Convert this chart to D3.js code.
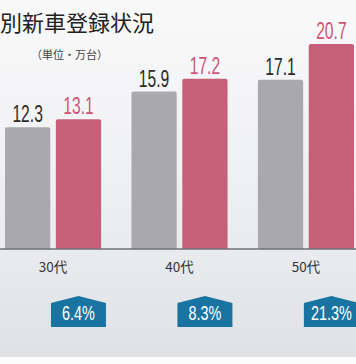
<!DOCTYPE html>
<html><head><meta charset="utf-8">
<script src="https://cdn.jsdelivr.net/npm/d3@7"></script>
<style>
html,body{margin:0;padding:0;background:#fff;}
svg{display:block;}
</style></head>
<body>
<script>
const categories = ["30代", "40代", "50代"];
const seriesKeys = ["prev", "curr"];
const prevValues = [12.3, 15.9, 17.1];
const currValues = [13.1, 17.2, 20.7];
const growthLabels = ["6.4%", "8.3%", "21.3%"];
const titleText = "別新車登録状況";
const unitText = "（単位・万台）";

const W = 356, H = 364;
const svg = d3.select("body").append("svg").attr("width", W).attr("height", H);

const defs = svg.append("defs");
const g1 = defs.append("linearGradient").attr("id","bg").attr("x1",0).attr("y1",0).attr("x2",0).attr("y2",1);
g1.append("stop").attr("offset","0%").attr("stop-color","#f9f9fa");
g1.append("stop").attr("offset","45%").attr("stop-color","#f0f1f3");
g1.append("stop").attr("offset","70%").attr("stop-color","#e9ebee");
g1.append("stop").attr("offset","100%").attr("stop-color","#dfe1e4");
svg.append("rect").attr("x",0).attr("y",0).attr("width",W).attr("height",357).attr("fill","url(#bg)");
svg.append("rect").attr("x",0).attr("y",357).attr("width",W).attr("height",H-357).attr("fill","#fbfbfb");

const y = d3.scaleLinear().domain([0, 25]).range([249, 1.5]);
const x0 = d3.scaleBand().domain(categories).range([5, 354]).paddingInner(0.24).paddingOuter(0);
const x1 = d3.scaleBand().domain(seriesKeys).range([0, x0.bandwidth()]).paddingInner(0.11);
const colors = {prev: "#a9a9ab", curr: "#c65f78"};
const labelColors = {prev: "#2b2b2b", curr: "#cf5479"};

const rows = categories.map((c, i) => ({cat: c, prev: prevValues[i], curr: currValues[i], growth: growthLabels[i]}));

const numFont = "'Liberation Sans', Arial, sans-serif";

// title
svg.append("text").attr("x", 0).attr("y", 31)
  .attr("font-family", "'Noto Sans CJK JP', sans-serif").attr("font-size", 22)
  .attr("fill", "#222").text(titleText);
svg.append("text").attr("x", 31).attr("y", 59)
  .attr("font-family", "'Noto Sans CJK JP', sans-serif").attr("font-size", 11)
  .attr("fill", "#444").text(unitText);

const groups = svg.append("g").selectAll("g").data(rows).join("g")
  .attr("transform", d => `translate(${x0(d.cat)},0)`);

function topRounded(x, yTop, w, h, r) {
  return `M${x},${yTop + h}V${yTop + r}Q${x},${yTop} ${x + r},${yTop}H${x + w - r}Q${x + w},${yTop} ${x + w},${yTop + r}V${yTop + h}Z`;
}

groups.selectAll("path.bar").data(d => seriesKeys.map(k => ({key: k, value: d[k]}))).join("path")
  .attr("class", "bar")
  .attr("d", d => topRounded(x1(d.key), y(d.value), x1.bandwidth(), y(0) - y(d.value), 2))
  .attr("fill", d => colors[d.key]);

groups.selectAll("g.val").data(d => seriesKeys.map(k => ({key: k, value: d[k]}))).join("g")
  .attr("class", "val")
  .attr("transform", d => `translate(${x1(d.key) + x1.bandwidth() / 2},${y(d.value) - 5}) scale(0.68,1)`)
  .append("text")
  .attr("text-anchor", "middle")
  .attr("font-family", numFont).attr("font-size", 23)
  .attr("fill", d => labelColors[d.key])
  .text(d => d.value.toFixed(1));

// axis
const axis = svg.append("g").attr("transform", `translate(0,${y(0)})`)
  .call(d3.axisBottom(x0).tickSize(0).tickPadding(13));
axis.select(".domain").attr("stroke", "#6f7072").attr("stroke-width", 1.3).attr("d", `M0,0H${W}`);
axis.selectAll("text").attr("font-family", "'Noto Sans CJK JP', sans-serif")
  .attr("font-size", 13.5).attr("fill", "#333");

// badges
const bw = 55, bh = 31, shoulder = 7;
const badges = svg.append("g").selectAll("g").data(rows).join("g")
  .attr("transform", d => `translate(${x0(d.cat) + x1("curr") + x1.bandwidth() / 2},296)`);
badges.append("path")
  .attr("d", `M${-bw/2},${shoulder}L0,0L${bw/2},${shoulder}V${bh}H${-bw/2}Z`)
  .attr("fill", "#1a74a2");
badges.append("g").attr("transform", "translate(0,24) scale(0.74,1)")
  .append("text").attr("text-anchor", "middle")
  .attr("font-family", numFont).attr("font-size", 19.5).attr("fill", "#fff")
  .text(d => d.growth);
</script>
</body></html>
